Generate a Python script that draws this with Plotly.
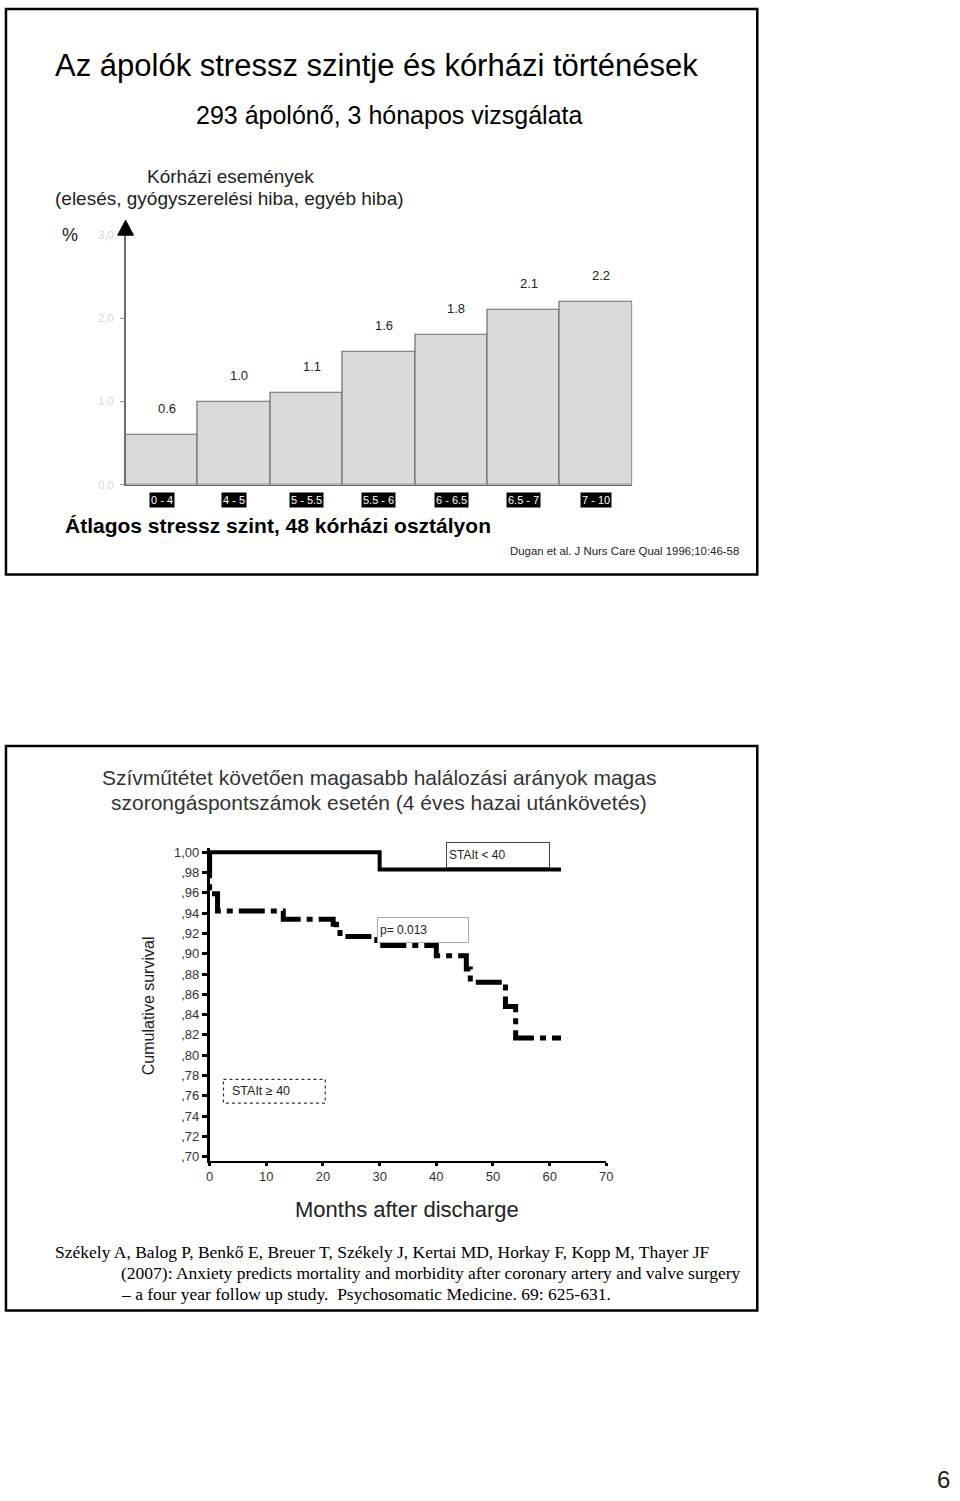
import plotly.graph_objects as go

W, H = 960, 1501

# ---------------- data ----------------
stress_levels = ["0 - 4", "4 - 5", "5 - 5.5", "5.5 - 6", "6 - 6.5", "6.5 - 7", "7 - 10"]
event_pct = [0.6, 1.0, 1.1, 1.6, 1.8, 2.1, 2.2]
bar_yticks = [0, 1, 2, 3]
bar_yticktext = ["0,0", "1,0", "2,0", "3,0"]

low_months = [0, 30, 62]
low_surv = [1.0, 0.983, 0.983]
high_months = [0, 0, 1.4, 13, 21.8, 22.4, 23, 29.5, 40, 45.3, 46, 52.2, 54, 62]
high_surv = [1.0, 0.959, 0.942, 0.934, 0.929, 0.924, 0.917, 0.908, 0.898, 0.885,
             0.872, 0.848, 0.817, 0.817]
surv_yticks = [0.70, 0.72, 0.74, 0.76, 0.78, 0.80, 0.82, 0.84, 0.86, 0.88,
               0.90, 0.92, 0.94, 0.96, 0.98, 1.00]
surv_yticktext = [",70", ",72", ",74", ",76", ",78", ",80", ",82", ",84", ",86", ",88",
                  ",90", ",92", ",94", ",96", ",98", "1,00"]
month_ticks = [0, 10, 20, 30, 40, 50, 60, 70]


def px(x, y):
    return x / W, 1 - y / H


FONT = "Liberation Sans, Arial, sans-serif"
NARROW = "Liberation Sans Narrow, Arial Narrow, Liberation Sans, sans-serif"
SERIF = "Liberation Serif, Times New Roman, serif"

fig = go.Figure()

# ---------------- top bar chart ----------------
fig.add_trace(go.Bar(
    x=stress_levels, y=event_pct, xaxis="x", yaxis="y",
    marker=dict(color="#d9d9d9", line=dict(color="#6e6e6e", width=1.2)),
    showlegend=False, hoverinfo="skip",
))

# ---------------- survival curves ----------------
fig.add_trace(go.Scatter(
    x=low_months, y=low_surv, xaxis="x2", yaxis="y2", mode="lines",
    line=dict(color="black", width=4, shape="hv"), showlegend=False, hoverinfo="skip",
))
fig.add_trace(go.Scatter(
    x=high_months, y=high_surv, xaxis="x2", yaxis="y2", mode="lines",
    line=dict(color="black", width=5, shape="hv", dash="26px,6px,6px,6px"),
    showlegend=False, hoverinfo="skip",
))

bx0, by_top = px(123, 230.7)
bx1, by_bot = px(635.5, 482.7)
sx0, sy_top = px(208, 849)
sx1, sy_bot = px(609.3, 1164)

fig.update_layout(
    width=W, height=H, margin=dict(l=0, r=0, t=0, b=0),
    paper_bgcolor="white", plot_bgcolor="rgba(0,0,0,0)",
    font=dict(family=FONT, color="black"),
    bargap=0,
    xaxis=dict(domain=[bx0, bx1], range=[-0.5, 6.5], showticklabels=False,
               showline=True, linecolor="#6e6e6e", linewidth=1.2, ticks="",
               showgrid=False, zeroline=False, fixedrange=True),
    yaxis=dict(domain=[by_bot, by_top], range=[0, 3.0], tickvals=bar_yticks,
               ticktext=bar_yticktext, showline=True, linecolor="#6e6e6e",
               linewidth=1.5, ticks="outside", ticklen=4, tickcolor="#9a9a9a",
               tickfont=dict(size=11, color="#d6d6d6"), showgrid=False,
               zeroline=False, fixedrange=True, ticklabelstandoff=4),
    xaxis2=dict(domain=[sx0, sx1], range=[0, 70], tickvals=month_ticks,
                showline=True, linecolor="black", linewidth=2, ticks="outside",
                ticklen=3, tickwidth=3, tickcolor="black",
                tickfont=dict(size=13, color="#333"), showgrid=False,
                zeroline=False, fixedrange=True, anchor="y2"),
    yaxis2=dict(domain=[sy_bot, sy_top], range=[0.696, 1.004], tickvals=surv_yticks,
                ticktext=surv_yticktext, showline=True, linecolor="black",
                linewidth=2.5, ticks="outside", ticklen=5, tickwidth=3,
                tickcolor="black", tickfont=dict(size=13, color="#333"),
                showgrid=False, zeroline=False, fixedrange=True, anchor="x2"),
)

ann = []


def text(x, y, s, size, xanchor="center", color="black", family=FONT, **kw):
    X, Y = px(x, y)
    ann.append(dict(x=X, y=Y, xref="paper", yref="paper", text=s, showarrow=False,
                    xanchor=xanchor, yanchor="middle",
                    font=dict(size=size, color=color, family=family), **kw))


# top panel texts
text(50, 60, "Az ápolók stressz szintje és kórházi történések", 31, "left", family=NARROW)
text(390, 110, "293 ápolónő, 3 hónapos vizsgálata", 25)
text(229, 172, "Kórházi események", 19, color="#222")
text(228, 194, "(elesés, gyógyszerelési hiba, egyéb hiba)", 19, color="#222")
text(67, 231, "%", 18, color="#222")
text(60, 524, "<b>Átlagos stressz szint, 48 kórházi osztályon</b>", 21, "left")
text(510, 549, "Dugan et al. J Nurs Care Qual 1996;10:46-58", 11.4, "left", color="#222")

# bar value labels and category boxes
for cat, v in zip(stress_levels, event_pct):
    ann.append(dict(x=cat, y=v, xref="x", yref="y", text=f"{v:.1f}", showarrow=False,
                    xanchor="center", yanchor="bottom", yshift=17, xshift=5,
                    font=dict(size=13, color="#222")))
    ann.append(dict(x=cat, y=px(0, 498)[1], xref="x", yref="paper", text=cat,
                    showarrow=False, xanchor="center", yanchor="middle",
                    bgcolor="black", borderpad=1,
                    font=dict(size=11, color="white")))

# bottom panel texts
text(379, 778, "Szívműtétet követően magasabb halálozási arányok magas", 21, color="#333")
text(379, 803, "szorongáspontszámok esetén (4 éves hazai utánkövetés)", 21, color="#333")
text(147, 1008, "Cumulative survival", 16, color="#222", textangle=-90)
text(408, 1213, "Months after discharge", 22, color="#222")

# legend boxes
X, Y = px(447, 843)
ann.append(dict(x=X, y=Y, xref="paper", yref="paper", text="STAIt &lt; 40",
                showarrow=False, xanchor="left", yanchor="top", align="left",
                width=98, height=20, borderpad=2, bordercolor="#444", borderwidth=1,
                bgcolor="white", font=dict(size=12, color="#222")))
X, Y = px(377, 918)
ann.append(dict(x=X, y=Y, xref="paper", yref="paper", text="p= 0.013",
                showarrow=False, xanchor="left", yanchor="top", align="left",
                width=86, height=20, borderpad=2, bordercolor="#aaa", borderwidth=1,
                bgcolor="white", font=dict(size=12, color="#222")))
text(229, 1094, "STAIt ≥ 40", 12.5, "left", color="#222")

# citation
text(50, 1256, "Székely A, Balog P, Benkő E, Breuer T, Székely J, Kertai MD, Horkay F, Kopp M, Thayer JF",
     17.5, "left", family=SERIF)
text(116, 1277, "(2007): Anxiety predicts mortality and morbidity after coronary artery and valve surgery",
     17.5, "left", family=SERIF)
text(116, 1298, "– a four year follow up study.  Psychosomatic Medicine. 69: 625-631.",
     17.5, "left", family=SERIF)

text(950, 1485, "6", 24, color="#222")

fig.update_layout(annotations=ann)

# shapes: frames, arrow, dotted legend box
shapes = []


def rect(x0, y0, x1, y1, **line):
    X0, Y0 = px(x0, y0)
    X1, Y1 = px(x1, y1)
    shapes.append(dict(type="rect", xref="paper", yref="paper", x0=X0, y0=Y0, x1=X1, y1=Y1,
                       line=line, fillcolor="rgba(0,0,0,0)"))


rect(2, 3, 762, 573, color="black", width=2.5)
rect(2, 746, 762, 1315, color="black", width=2.5)
rect(222, 1082, 325, 1106, color="#333", width=1.2, dash="dot")

ax, ay = px(123, 216)
lx, ly = px(115, 231)
rx, ry = px(131, 231)
shapes.append(dict(type="path", xref="paper", yref="paper",
                   path=f"M {lx},{ly} L {ax},{ay} L {rx},{ry} Z",
                   fillcolor="black", line=dict(color="black", width=1)))

fig.update_layout(shapes=shapes)

fig.write_html("out.html")
